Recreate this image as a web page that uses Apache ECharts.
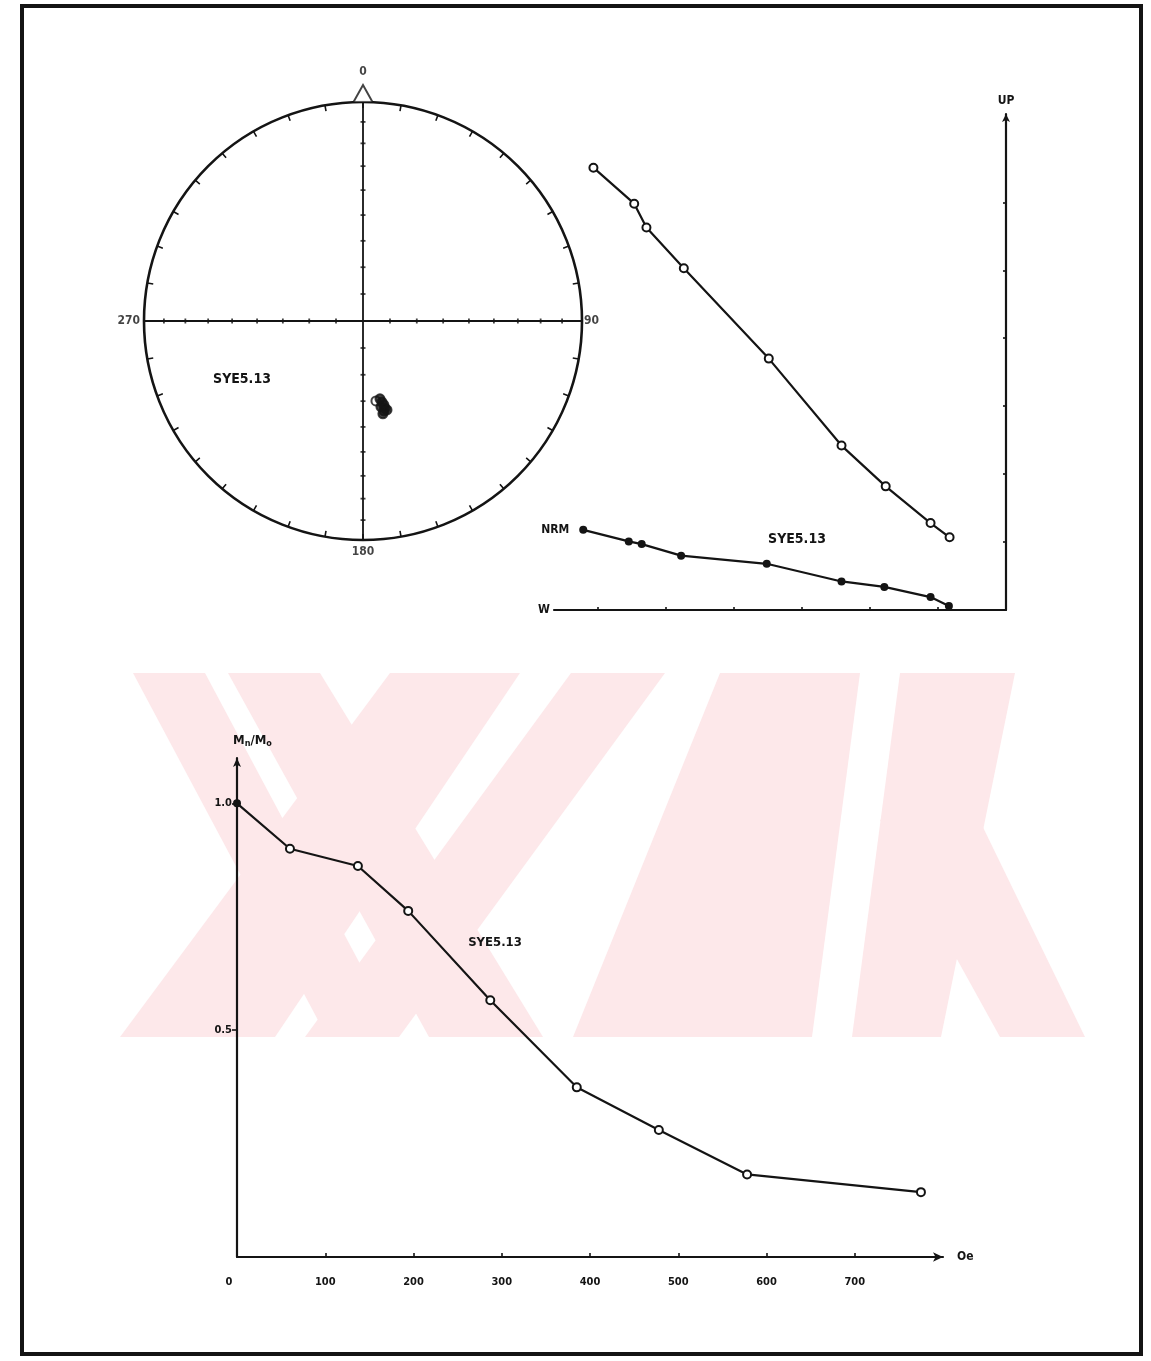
<!DOCTYPE html>
<html>
<head>
<meta charset="utf-8">
<script src="https://cdn.jsdelivr.net/npm/echarts@6/dist/echarts.min.js"></script>
<style>
  html, body { margin: 0; padding: 0; background: #fff; }
  #main { width: 1151px; height: 1361px; }
</style>
</head>
<body>
<div id="main"></div>
<script>
// Sample SYE5.13 — stereonet directions (declination, inclination in degrees)
const stereoDec = [170.8, 167.7, 166.8, 166.0, 168.2, 165.8, 164.9, 166.9, 167.9];
const stereoInc = [59.7, 60.2, 58.8, 57.6, 57.1, 56.3, 55.4, 55.3, 54.3];
// inclination graduations along the N-S and E-W diameters
const netTickInc = [10, 20, 30, 40, 50, 60, 70, 80];
const compassLabels = ['0', '90', '180', '270'];

// Orthogonal vector projection (arbitrary units, 1 tick = 1 unit)
const zijHorizX = [-6.22, -5.55, -5.36, -4.78, -3.52, -2.42, -1.79, -1.11, -0.84];
const zijHorizY = [1.18, 1.01, 0.97, 0.80, 0.68, 0.42, 0.34, 0.19, 0.06];
const zijVertX = [-6.07, -5.47, -5.29, -4.74, -3.49, -2.42, -1.77, -1.11, -0.83];
const zijVertY = [6.51, 5.98, 5.63, 5.03, 3.70, 2.42, 1.82, 1.28, 1.07];
const zijTicksX = [-6, -5, -4, -3, -2, -1];
const zijTicksY = [1, 2, 3, 4, 5, 6];

// AF demagnetisation: peak field (Oe) and normalised remanence
const afField = [0, 60, 137, 194, 287, 385, 478, 578, 775];
const afIntensity = [1.0, 0.90, 0.862, 0.763, 0.566, 0.374, 0.280, 0.182, 0.143];
const afTicks = [0, 100, 200, 300, 400, 500, 600, 700];
const afTickLabels = ['0', '100', '200', '300', '400', '500', '600', '700'];
const intensityTicks = [0.5, 1.0];
const intensityTickLabels = ['0.5', '1.0'];

const INK = '#141414';
const FONT = 'DejaVu Sans Condensed';

// Schmidt equal-area radius for an inclination
function equalArea(inc) {
  return Math.SQRT2 * Math.sin((90 - Math.abs(inc)) / 2 * Math.PI / 180);
}

const chart = echarts.init(document.getElementById('main'), null, { renderer: 'canvas' });

const netTicksNS = [], netTicksEW = [];
netTickInc.forEach(function (inc) {
  const r = equalArea(inc);
  netTicksNS.push([r, 0], [r, 180]);
  netTicksEW.push([r, 90], [r, 270]);
});

const stereoData = stereoDec.map(function (d, i) {
  const item = { value: [equalArea(stereoInc[i]), d] };
  if (i === 0) item.symbol = 'emptyCircle';
  return item;
});

const labelSpec = {
  '0': { pos: 'top', dist: 24 },
  '90': { pos: 'right', dist: 2 },
  '180': { pos: 'bottom', dist: 6 },
  '270': { pos: 'left', dist: 4 }
};
const compassData = compassLabels.map(function (t) {
  const s = labelSpec[t];
  return {
    value: [1, Number(t)],
    label: { show: true, formatter: t, position: s.pos, distance: s.dist }
  };
});

const textStyle = { fontFamily: FONT, fontWeight: 'bold', color: INK };

// faint background logo (paper watermark)
const wm = '#fde8ea';
const watermarkPolys = [
  [[133, 673], [205, 673], [399, 1037], [327, 1037]],
  [[228, 673], [320, 673], [543, 1037], [429, 1037]],
  [[120, 1037], [275, 1037], [520, 673], [390, 673]],
  [[305, 1037], [399, 1037], [665, 673], [571, 673]],
  [[573, 1037], [812, 1037], [860, 673], [720, 673]],
  [[852, 1037], [941, 1037], [1015, 673], [900, 673]],
  [[880, 820], [960, 780], [1085, 1037], [1000, 1037]]
];

const graphics = watermarkPolys.map(function (p) {
  return { type: 'polygon', z: -10, silent: true, shape: { points: p }, style: { fill: wm } };
});
graphics.push({
  type: 'rect', z: 100, silent: true,
  shape: { x: 22, y: 6, width: 1119, height: 1348 },
  style: { fill: null, stroke: INK, lineWidth: 4 }
});
[
  { t: 'SYE5.13', x: 242, y: 379, s: 14 },
  { t: 'SYE5.13', x: 797, y: 539, s: 14 },
  { t: 'SYE5.13', x: 495, y: 943, s: 13 }
].forEach(function (g) {
  graphics.push({
    type: 'text', z: 50, silent: true, x: g.x, y: g.y,
    style: {
      text: g.t, font: 'bold ' + g.s + 'px "' + FONT + '"', fill: INK,
      align: 'center', verticalAlign: 'middle'
    }
  });
});

const option = {
  backgroundColor: '#fff',
  animation: false,
  textStyle: { fontFamily: FONT },
  polar: { center: [363, 321], radius: 219 },
  angleAxis: {
    type: 'value', min: 0, max: 360, interval: 10,
    startAngle: 90, clockwise: true,
    axisLine: { lineStyle: { color: INK, width: 2.6 } },
    axisTick: { show: true, inside: true, length: 6, lineStyle: { color: INK, width: 1.6 } },
    axisLabel: { show: false },
    splitLine: { show: false }
  },
  radiusAxis: {
    type: 'value', min: 0, max: 1, show: false,
    axisLine: { show: false }, axisTick: { show: false },
    axisLabel: { show: false }, splitLine: { show: false }
  },
  grid: [
    { left: 554, top: 114, width: 452, height: 496 },
    { left: 237, top: 758, width: 706, height: 499 }
  ],
  xAxis: [
    {
      gridIndex: 0, type: 'value', min: -6.65, max: 0,
      name: 'W', nameLocation: 'start', nameGap: 4,
      nameTextStyle: Object.assign({ fontSize: 12 }, textStyle),
      axisLine: { onZero: false, lineStyle: { color: INK, width: 2.2 } },
      axisTick: { show: true, inside: true, length: 3, lineStyle: { color: INK, width: 1.6 },
                  customValues: zijTicksX },
      axisLabel: { show: false },
      splitLine: { show: false }
    },
    {
      gridIndex: 1, type: 'value', min: 0, max: 800, interval: 100,
      name: 'Oe', nameLocation: 'end', nameGap: 14,
      nameTextStyle: Object.assign({ fontSize: 12, verticalAlign: 'middle' }, textStyle),
      axisLine: { lineStyle: { color: INK, width: 2.2 }, symbol: ['none', 'arrow'], symbolSize: [7, 10] },
      axisTick: { show: true, inside: true, length: 4, lineStyle: { color: INK, width: 1.6 },
                  customValues: afTicks },
      axisLabel: Object.assign({
        fontSize: 11, margin: 20,
        customValues: afTicks,
        formatter: function (v) {
          const i = afTicks.indexOf(Math.round(v));
          if (i < 0) return '';
          return i === 0 ? '{z|' + afTickLabels[0] + '}' : afTickLabels[i];
        },
        rich: { z: { fontFamily: FONT, fontWeight: 'bold', fontSize: 11, color: INK, padding: [0, 16, 0, 0] } }
      }, textStyle),
      splitLine: { show: false }
    }
  ],
  yAxis: [
    {
      gridIndex: 0, type: 'value', min: 0, max: 7.3, position: 'right',
      name: 'UP', nameLocation: 'end', nameGap: 7,
      nameTextStyle: Object.assign({ fontSize: 12 }, textStyle),
      axisLine: { onZero: false, lineStyle: { color: INK, width: 2.2 }, symbol: ['none', 'arrow'], symbolSize: [6, 8] },
      axisTick: { show: true, inside: true, length: 3, lineStyle: { color: INK, width: 1.6 },
                  customValues: zijTicksY },
      axisLabel: { show: false },
      splitLine: { show: false }
    },
    {
      gridIndex: 1, type: 'value', min: 0, max: 1.1, interval: 0.5,
      name: 'M{s|n}/M{s|o}', nameLocation: 'end', nameGap: 10,
      nameTextStyle: Object.assign({
        fontSize: 13, align: 'left', padding: [0, 0, 0, -4],
        rich: { s: { fontFamily: FONT, fontWeight: 'bold', fontSize: 9, color: INK, verticalAlign: 'bottom', padding: [6, 0, 0, 0] } }
      }, textStyle),
      axisLine: { lineStyle: { color: INK, width: 2.2 }, symbol: ['none', 'arrow'], symbolSize: [6, 9] },
      axisTick: { show: true, length: 5, lineStyle: { color: INK, width: 1.6 },
                  customValues: intensityTicks },
      axisLabel: Object.assign({
        fontSize: 11, margin: 5,
        customValues: intensityTicks,
        formatter: function (v) {
          const i = intensityTicks.findIndex(function (t) { return Math.abs(t - v) < 1e-6; });
          return i < 0 ? '' : intensityTickLabels[i];
        }
      }, textStyle),
      splitLine: { show: false }
    }
  ],
  series: [
    {
      type: 'line', coordinateSystem: 'polar', symbol: 'none', silent: true,
      data: [[1, 0], [1, 180]], lineStyle: { color: INK, width: 1.8 }
    },
    {
      type: 'line', coordinateSystem: 'polar', symbol: 'none', silent: true,
      data: [[1, 270], [1, 90]], lineStyle: { color: INK, width: 1.8 }
    },
    {
      type: 'scatter', coordinateSystem: 'polar', silent: true,
      symbol: 'rect', symbolSize: [5, 1.8], data: netTicksNS, itemStyle: { color: INK }
    },
    {
      type: 'scatter', coordinateSystem: 'polar', silent: true,
      symbol: 'rect', symbolSize: [1.8, 5], data: netTicksEW, itemStyle: { color: INK }
    },
    {
      // north marker
      type: 'scatter', coordinateSystem: 'polar', silent: true, z: 3,
      symbol: 'triangle', symbolSize: [19, 17], symbolOffset: [0, '-50%'],
      data: [[1, 0]], itemStyle: { color: '#fff', borderColor: INK, borderWidth: 1.8 }
    },
    {
      type: 'scatter', coordinateSystem: 'polar', silent: true,
      symbolSize: 0, data: compassData,
      label: Object.assign({ fontSize: 12 }, textStyle)
    },
    {
      name: 'SYE5.13 directions',
      type: 'scatter', coordinateSystem: 'polar', z: 4,
      symbol: 'circle', symbolSize: 9,
      data: stereoData,
      itemStyle: { color: INK, borderColor: INK, borderWidth: 2 }
    },
    {
      name: 'Horizontal plane',
      type: 'line', xAxisIndex: 0, yAxisIndex: 0,
      data: zijHorizX.map(function (x, i) {
        const item = { value: [x, zijHorizY[i]] };
        if (i === 0) item.label = { show: true, formatter: 'NRM', position: 'left', distance: 10 };
        return item;
      }),
      symbol: 'circle', symbolSize: 8,
      lineStyle: { color: INK, width: 2.2 },
      itemStyle: { color: INK },
      label: Object.assign({ fontSize: 12 }, textStyle)
    },
    {
      name: 'Vertical plane',
      type: 'line', xAxisIndex: 0, yAxisIndex: 0,
      data: zijVertX.map(function (x, i) { return [x, zijVertY[i]]; }),
      symbol: 'emptyCircle', symbolSize: 8,
      lineStyle: { color: INK, width: 2.2 },
      itemStyle: { color: INK, borderWidth: 2.2 }
    },
    {
      name: 'SYE5.13',
      type: 'line', xAxisIndex: 1, yAxisIndex: 1,
      data: afField.map(function (f, i) {
        const item = { value: [f, afIntensity[i]] };
        if (i === 0) item.symbol = 'circle';
        return item;
      }),
      symbol: 'emptyCircle', symbolSize: 8,
      lineStyle: { color: INK, width: 2.2 },
      itemStyle: { color: INK, borderWidth: 2.2 }
    }
  ],
  graphic: { elements: graphics }
};

chart.setOption(option);
</script>
</body>
</html>
